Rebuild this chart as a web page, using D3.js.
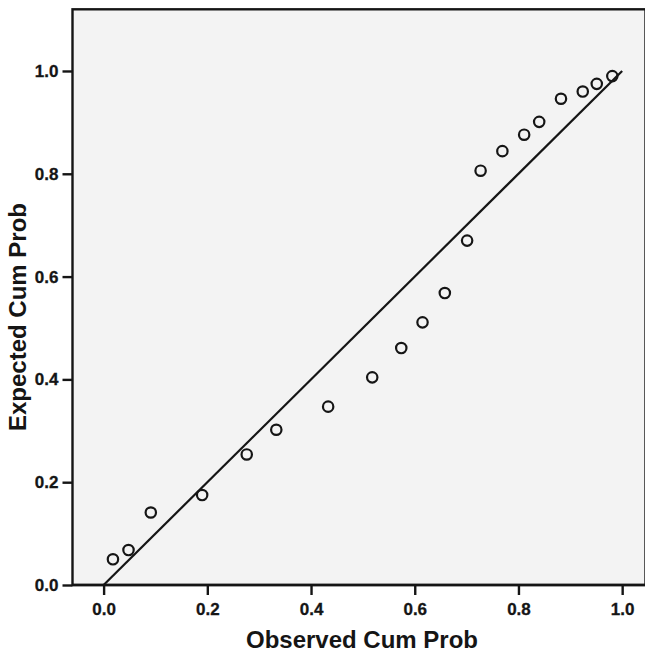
<!DOCTYPE html>
<html>
<head>
<meta charset="utf-8">
<script src="https://cdn.jsdelivr.net/npm/d3@7.9.0/dist/d3.min.js"></script>
<style>
  html, body { margin: 0; padding: 0; background: #fff; }
  svg { display: block; }
  .tick text { font-family: "Liberation Sans", Arial, sans-serif; font-weight: bold; font-size: 17px; fill: #151515; }
  .title { font-family: "Liberation Sans", Arial, sans-serif; font-weight: bold; font-size: 24px; fill: #151515; }
</style>
</head>
<body>
<svg id="chart" width="645" height="657"></svg>
<script>
// observed vs expected cumulative probability (P-P plot)
const observed = [0.018, 0.048, 0.091, 0.190, 0.276, 0.333, 0.433, 0.518, 0.574, 0.615,
                  0.658, 0.701, 0.727, 0.769, 0.811, 0.840, 0.882, 0.924, 0.951, 0.981];
const expected = [0.050, 0.068, 0.141, 0.175, 0.254, 0.302, 0.347, 0.404, 0.461, 0.511,
                  0.568, 0.670, 0.806, 0.844, 0.876, 0.901, 0.946, 0.960, 0.975, 0.990];
const refLine = [[0, 0], [1, 1]];
const xTicks = [0, 0.2, 0.4, 0.6, 0.8, 1.0];
const yTicks = [0, 0.2, 0.4, 0.6, 0.8, 1.0];

const svg = d3.select('#chart');
const ink = '#151515';

const x = d3.scaleLinear().domain([-0.06, 1.045]).range([72.5, 645.5]);
const y = d3.scaleLinear().domain([0, 1.12]).range([585, 9.3]);

// plot background + frame
svg.append('rect')
  .attr('x', x.range()[0])
  .attr('y', y.range()[1])
  .attr('width', x.range()[1] - x.range()[0])
  .attr('height', y.range()[0] - y.range()[1])
  .attr('fill', '#f3f3f3')
  .attr('stroke', ink)
  .attr('stroke-width', 2.4);

const xAxis = svg.append('g')
  .attr('transform', `translate(0,${y(0)})`)
  .call(d3.axisBottom(x).tickValues(xTicks).tickFormat(d3.format('.1f')).tickSize(10).tickPadding(8));

const yAxis = svg.append('g')
  .attr('transform', `translate(${x.range()[0]},0)`)
  .call(d3.axisLeft(y).tickValues(yTicks).tickFormat(d3.format('.1f')).tickSize(10).tickPadding(4));

[xAxis, yAxis].forEach(g => {
  g.select('.domain').remove();
  g.selectAll('.tick line').attr('stroke', ink).attr('stroke-width', 2.4);
  g.selectAll('.tick text').attr('stroke', '#151515').attr('stroke-width', 0.3);
});

// the x baseline runs across the frame
svg.append('line')
  .attr('x1', x.range()[0]).attr('x2', x.range()[1])
  .attr('y1', y(0)).attr('y2', y(0))
  .attr('stroke', ink).attr('stroke-width', 2.4);

const line = d3.line().x(d => x(d[0])).y(d => y(d[1]));
svg.append('path')
  .attr('d', line(refLine))
  .attr('fill', 'none')
  .attr('stroke', ink)
  .attr('stroke-width', 2.2);

svg.append('g')
  .selectAll('circle')
  .data(observed.map((o, i) => ({ o, e: expected[i] })))
  .join('circle')
  .attr('cx', d => x(d.o))
  .attr('cy', d => y(d.e))
  .attr('r', 5.2)
  .attr('fill', 'none')
  .attr('stroke', ink)
  .attr('stroke-width', 2.2);

svg.append('text')
  .attr('class', 'title')
  .attr('x', 362)
  .attr('y', 648)
  .attr('text-anchor', 'middle')
  .text('Observed Cum Prob');

svg.append('text')
  .attr('class', 'title')
  .attr('transform', 'translate(26,317) rotate(-90)')
  .attr('text-anchor', 'middle')
  .text('Expected Cum Prob');
</script>
</body>
</html>
